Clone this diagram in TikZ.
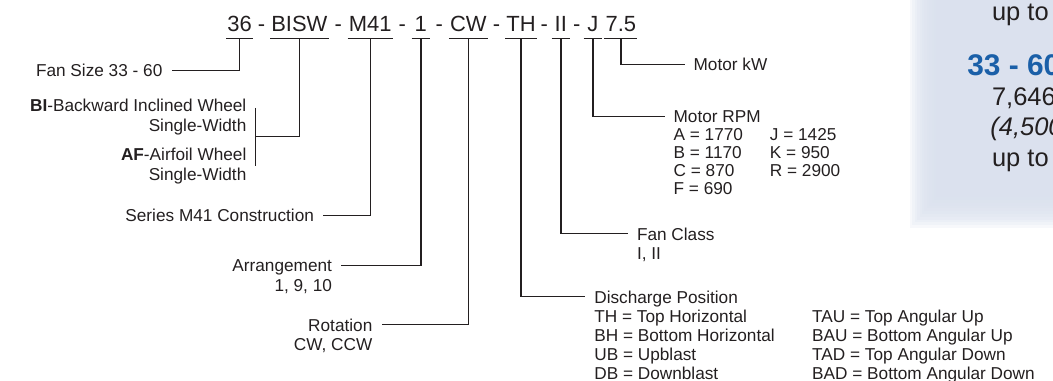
\documentclass[tikz,border=0pt]{standalone}
\usepackage{fontspec}
\setmainfont{Liberation Sans}
\usetikzlibrary{calc}
\definecolor{mdlInk}{HTML}{231F20}
\definecolor{mdlBlue}{HTML}{1A5FA8}
\definecolor{mdlPanel}{HTML}{D9E0ED}
\tikzset{
  mdl code/.style={anchor=base, inner xsep=0.5pt, inner ysep=0pt, minimum width=10pt, font=\fontsize{12.5}{14}\selectfont, text=mdlInk},
  mdl label/.style={inner xsep=5pt, inner ysep=0pt, font=\fontsize{9.8}{11}\selectfont, text=mdlInk},
  mdl rule/.style={draw=mdlInk, line width=0.8pt},
  mdl line/.style={draw=mdlInk, line width=0.9pt},
  mdl panel text/.style={anchor=base west, inner sep=0pt, font=\fontsize{14.5}{17}\selectfont, text=mdlInk},
}

\begin{document}
\begin{tikzpicture}[x=0.02cm, y=-0.02cm]
  \useasboundingbox (0,0) rectangle (1053,381);
  % ----- shaded panel, cut by the right edge -----
  \begin{scope}
    \clip (0,0) rectangle (1053,381);
    \foreach \i in {0,...,11}
      \fill[mdlPanel, opacity=0.22] (910+2.4*\i,-10) rectangle (1070,228-2.8*\i);
    \node[mdl panel text] (pUpA) at (991.7,21) {up to};
    \node[mdl panel text, text=mdlBlue, font=\fontsize{17}{19}\selectfont\bfseries] (pSize) at (967,76) {33 - 60};
    \node[mdl panel text] (pFlow) at (991.7,106) {7,646};
    \node[mdl panel text, font=\fontsize{14.5}{17}\selectfont\itshape] (pAlt) at (990,136) {(4,500};
    \node[mdl panel text] (pUpB) at (991.7,167) {up to};
  \end{scope}
  % ----- model code -----
  \node[mdl code] (c36) at (239.7,31.7) {36};
  \node[mdl code] (cBISW) at (299.4,31.7) {BISW};
  \node[mdl code] (cM41) at (370.3,31.7) {M41};
  \node[mdl code] (c1) at (420.8,31.7) {1};
  \node[mdl code] (cCW) at (468.3,31.7) {CW};
  \node[mdl code] (cTH) at (521,31.7) {TH};
  \node[mdl code] (cII) at (560.8,31.7) {II};
  \node[mdl code] (cJ) at (592.8,31.7) {J};
  \node[mdl code] (cKW) at (620.8,31.7) {7.5};
  \foreach \a/\b [count=\n] in {c36/cBISW, cBISW/cM41, cM41/c1, c1/cCW, cCW/cTH, cTH/cII, cII/cJ}
    \node[mdl code] (dash\n) at ($(\a.base east)!0.5!(\b.base west)$) {-};
  \foreach \f in {c36,cBISW,cM41,c1,cCW,cTH,cII,cJ,cKW}
    \draw[mdl rule] ([yshift=-3.75pt]\f.base west) -- ([yshift=-3.75pt]\f.base east);
  % ----- labels on the left -----
  \node[mdl label, anchor=base east] (fansize) at (171.5,76.7) {Fan Size 33 - 60};
  \node[mdl label, anchor=base east] (bi) at (255.5,112)
    {\begin{tabular}[t]{@{}r@{}}\textbf{BI}-Backward Inclined Wheel\\ Single-Width\end{tabular}};
  \node[mdl label, anchor=base east] (af) at (255.5,161)
    {\begin{tabular}[t]{@{}r@{}}\textbf{AF}-Airfoil Wheel\\ Single-Width\end{tabular}};
  \node[mdl label, anchor=base east] (series) at (323.1,221.7) {Series M41 Construction};
  \node[mdl label, anchor=base east] (arrange) at (341.1,272)
    {\begin{tabular}[t]{@{}r@{}}Arrangement\\ 1, 9, 10\end{tabular}};
  \node[mdl label, anchor=base east] (rotation) at (381.5,331)
    {\begin{tabular}[t]{@{}r@{}}Rotation\\ CW, CCW\end{tabular}};
  % ----- labels on the right -----
  \node[mdl label, anchor=base west] (motorkw) at (684.5,71) {Motor kW};
  \node[mdl label, anchor=base west, font=\fontsize{9.8}{10.2}\selectfont] (rpm) at (664.5,123)
    {\begin{tabular}[t]{@{}p{54.8pt}@{}l@{}}
      \multicolumn{2}{@{}l@{}}{Motor RPM}\\
      A = 1770 & J = 1425\\
      B = 1170 & K = 950\\
      C = 870 & R = 2900\\
      F = 690 &
    \end{tabular}};
  \node[mdl label, anchor=base west] (fanclass) at (627.9,240)
    {\begin{tabular}[t]{@{}l@{}}Fan Class\\ I, II\end{tabular}};
  \node[mdl label, anchor=base west, font=\fontsize{9.8}{10.85}\selectfont] (discharge) at (585.2,303)
    {\begin{tabular}[t]{@{}p{124pt}@{}l@{}}
      \multicolumn{2}{@{}l@{}}{Discharge Position}\\
      TH = Top Horizontal & TAU = Top Angular Up\\
      BH = Bottom Horizontal & BAU = Bottom Angular Up\\
      UB = Upblast & TAD = Top Angular Down\\
      DB = Downblast & BAD = Bottom Angular Down
    \end{tabular}};
  % ----- connectors -----
  \coordinate (bar) at ($(bi.base east)!0.5!(af.base east)$);
  \draw[mdl line] ([yshift=2.3pt]bi.base east) -- ([yshift=-2.8pt]af.base east);
  \draw[mdl line] ([yshift=-3.75pt]c36.base) |- ([yshift=3.6pt]fansize.base east);
  \draw[mdl line] ([yshift=-3.75pt]cBISW.base) |- (bar);
  \draw[mdl line] ([yshift=-3.75pt]cM41.base) |- ([yshift=3.6pt]series.base east);
  \draw[mdl line] ([yshift=-3.75pt]c1.base) |- ([yshift=3.6pt]arrange.base east);
  \draw[mdl line] ([yshift=-3.75pt]cCW.base) |- ([yshift=3.6pt]rotation.base east);
  \draw[mdl line] ([yshift=-3.75pt]cTH.base) |- ([yshift=3.6pt]discharge.base west);
  \draw[mdl line] ([yshift=-3.75pt]cII.base) |- ([yshift=3.6pt]fanclass.base west);
  \draw[mdl line] ([yshift=-3.75pt]cJ.base) |- ([yshift=3.6pt]rpm.base west);
  \draw[mdl line] ([yshift=-3.75pt]cKW.base) |- ([yshift=3.6pt]motorkw.base west);
\end{tikzpicture}
\end{document}
